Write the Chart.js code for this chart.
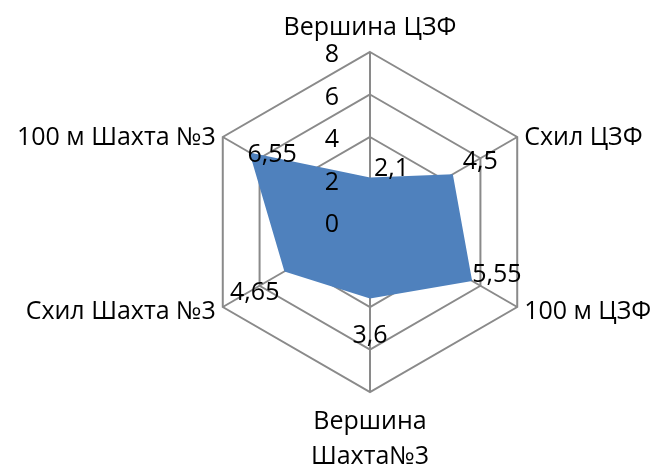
<!DOCTYPE html>
<html>
<head>
<meta charset="utf-8">
<script src="https://cdn.jsdelivr.net/npm/chart.js@4"></script>
<style>
  html, body { margin: 0; padding: 0; background: #fff; }
  #wrap { width: 654px; height: 465px; }
</style>
</head>
<body>
<div id="wrap"><canvas id="radarChart" width="654" height="465"></canvas></div>
<script>
const categories = ['Вершина ЦЗФ', 'Схил ЦЗФ', '100 м ЦЗФ', ['Вершина', 'Шахта№3'], 'Схил Шахта №3', '100 м Шахта №3'];
const values = [2.1, 4.5, 5.55, 3.6, 4.65, 6.55];
const tickMin = 0;
const tickMax = 8;
const tickStep = 2;

const FONT = '25px "Open Sans", "Noto Sans", sans-serif';
const TEXT_SHIFT = 3; // middle baseline sits a bit high in this font

// where each value label sits relative to its point (Excel put them oddly)
const labelOffsets = [
    { dx: 4, dy: -9, align: 'left' },
    { dx: 10, dy: -12, align: 'left' },
    { dx: 0, dy: -6, align: 'left' },
    { dx: 0, dy: 37, align: 'center' },
    { dx: -5, dy: 21, align: 'right' },
    { dx: -2, dy: 2, align: 'left' }
];

const textPlugin = {
    id: 'radarText',
    afterDraw(chart) {
        const ctx = chart.ctx;
        const scale = chart.scales.r;
        ctx.save();
        ctx.font = FONT;
        ctx.fillStyle = '#000';
        ctx.textBaseline = 'middle';

        // tick labels, left of the top axis line
        ctx.textAlign = 'right';
        scale.ticks.forEach(t => {
            const y = scale.yCenter - scale.getDistanceFromCenterForValue(t.value);
            ctx.fillText(String(t.value), scale.xCenter - 31, y + TEXT_SHIFT);
        });

        // category labels
        categories.forEach((label, i) => {
            const lines = Array.isArray(label) ? label : [label];
            let pos;
            if (i === 0 || i === 3) {
                pos = scale.getPointPosition(i, scale.drawingArea + 27);
                ctx.textAlign = 'center';
            } else {
                pos = scale.getPointPosition(i, scale.drawingArea + 8);
                ctx.textAlign = pos.x > scale.xCenter ? 'left' : 'right';
                pos.y += (pos.y < scale.yCenter) ? 2 : -2;
            }
            lines.forEach((line, k) => ctx.fillText(line, pos.x, pos.y + k * 35 + TEXT_SHIFT));
        });

        // value labels
        const meta = chart.getDatasetMeta(0);
        meta.data.forEach((pt, i) => {
            const o = labelOffsets[i];
            ctx.textAlign = o.align;
            ctx.fillText(String(values[i]).replace('.', ','), pt.x + o.dx, pt.y + o.dy);
        });
        ctx.restore();
    }
};

const ctx = document.getElementById('radarChart').getContext('2d');
new Chart(ctx, {
    type: 'radar',
    data: {
        labels: categories,
        datasets: [{
            data: values,
            backgroundColor: '#4F81BD',
            borderColor: '#4F81BD',
            borderWidth: 0,
            pointRadius: 0,
            fill: true
        }]
    },
    options: {
        responsive: false,
        animation: false,
        layout: {
            padding: { left: 200, right: 114, top: 52, bottom: 73 }
        },
        plugins: {
            legend: { display: false },
            tooltip: { enabled: false }
        },
        scales: {
            r: {
                z: 1,
                min: tickMin,
                max: tickMax,
                ticks: { stepSize: tickStep, display: false },
                pointLabels: { display: false },
                grid: { color: '#8a8a8a', lineWidth: 2 },
                angleLines: { color: '#8a8a8a', lineWidth: 2 }
            }
        }
    },
    plugins: [textPlugin]
});
</script>
</body>
</html>
